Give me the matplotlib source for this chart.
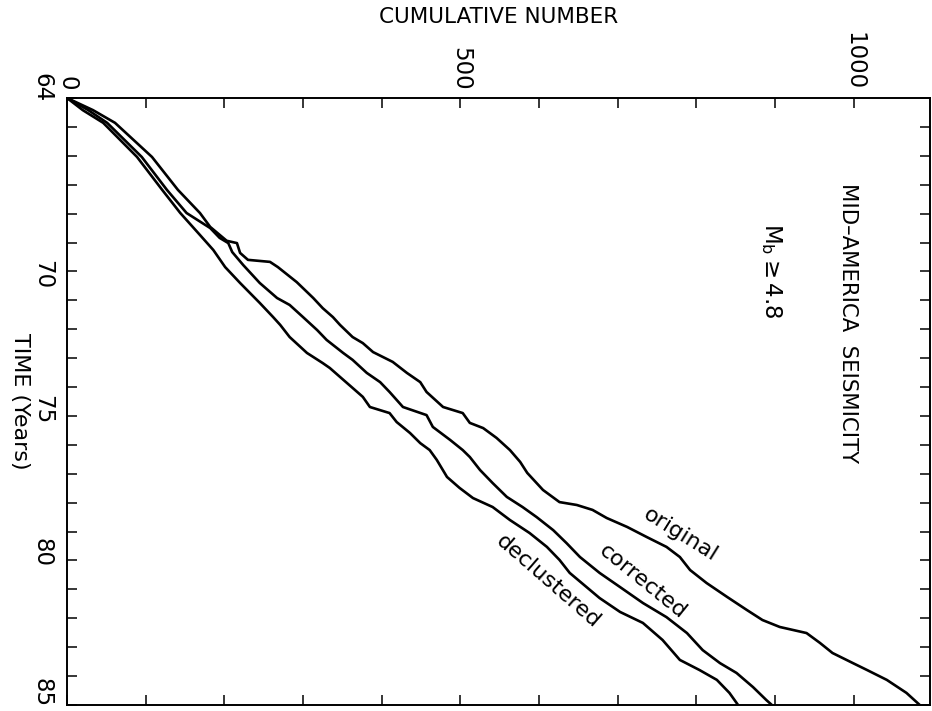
import matplotlib
matplotlib.use('Agg')
import matplotlib.pyplot as plt
import matplotlib.transforms as mtransforms
from matplotlib.ticker import MultipleLocator

plt.rcParams['font.family'] = ['DejaVu Sans']

# ---- data ----
orig_year = [64.0, 64.42, 64.86, 66.04, 67.18, 67.98, 68.46, 68.94, 69.02, 69.36, 69.60, 69.67,
             69.85, 70.37, 70.92, 71.27, 71.58, 71.85, 72.27, 72.48, 72.79, 73.13, 73.51, 73.83,
             74.17, 74.69, 74.90, 75.24, 75.42, 75.76, 76.18, 76.59, 76.97, 77.56, 77.98, 78.08,
             78.25, 78.53, 78.84, 79.19, 79.53, 79.88, 80.33, 80.78, 81.26, 81.71, 82.06, 82.30,
             82.51, 82.85, 83.20, 83.55, 83.79, 84.13, 84.58, 85.0]
orig_n = [0, 33, 61, 108, 141, 169, 182, 203, 216, 220, 230, 258,
          268, 292, 313, 325, 338, 347, 363, 376, 389, 414, 432, 449,
          457, 478, 503, 512, 529, 546, 563, 576, 585, 605, 626, 648,
          668, 686, 712, 737, 762, 779, 792, 813, 839, 864, 884, 906,
          940, 957, 973, 999, 1017, 1042, 1067, 1084]

corr_year = [64.0, 64.42, 64.86, 66.04, 67.18, 67.98, 68.50, 68.84, 69.02, 69.33, 69.78, 70.40,
             70.92, 71.16, 71.58, 72.03, 72.37, 72.82, 73.06, 73.51, 73.83, 74.17, 74.69, 74.97,
             75.38, 75.83, 76.18, 76.42, 76.87, 77.32, 77.80, 78.15, 78.50, 78.95, 79.40, 79.88,
             80.43, 80.92, 81.47, 81.96, 82.51, 83.10, 83.55, 83.89, 84.38, 84.83, 85.0]
corr_n = [0, 27, 51, 95, 127, 152, 182, 194, 205, 210, 224, 245,
          267, 283, 300, 318, 330, 351, 363, 381, 398, 410, 427, 457,
          465, 487, 503, 512, 525, 541, 559, 579, 597, 618, 635, 652,
          677, 703, 732, 762, 788, 808, 830, 851, 872, 889, 896]

decl_year = [64.0, 64.42, 64.86, 66.04, 67.18, 67.98, 68.74, 69.26, 69.85, 70.40, 71.09, 71.58,
             71.85, 72.27, 72.82, 73.17, 73.34, 73.65, 74.03, 74.34, 74.69, 74.90, 75.21, 75.59,
             75.94, 76.18, 76.52, 77.11, 77.49, 77.84, 78.15, 78.60, 79.05, 79.53, 79.98, 80.43,
             81.30, 81.78, 82.16, 82.75, 83.44, 83.79, 84.13, 84.58, 85.0]
decl_n = [0, 20, 46, 89, 121, 144, 169, 186, 201, 220, 245, 262,
          271, 283, 305, 325, 334, 347, 363, 376, 385, 410, 419, 436,
          449, 461, 470, 483, 499, 516, 541, 563, 588, 610, 626, 639,
          677, 703, 732, 757, 779, 804, 826, 842, 853]

n_ticks = [0, 500, 1000]
n_tick_labels = ['0', '500', '1000']
year_ticks = [64, 70, 75, 80, 85]
year_tick_labels = ['64', '70', '75', '80', '85']

# ---- figure ----
fig = plt.figure(figsize=(9.32, 7.11), dpi=100)
ax = fig.add_axes([0.0719, 0.0084, 0.926, 0.8538])

for n, yr in [(orig_n, orig_year), (corr_n, corr_year), (decl_n, decl_year)]:
    ax.plot(n, yr, color='black', lw=1.9, solid_joinstyle='round')

ax.set_xlim(0, 1097)
ax.set_ylim(85, 64)

for s in ax.spines.values():
    s.set_linewidth(1.4)

ax.set_xticks(n_ticks)
ax.xaxis.set_minor_locator(MultipleLocator(100))
ax.set_yticks(year_ticks)
ax.yaxis.set_minor_locator(MultipleLocator(1))

ax.tick_params(which='both', direction='in', top=True, bottom=True, left=True, right=True,
               length=7, width=1.1, labelbottom=False, labeltop=True,
               labelleft=True, labelright=False)
ax.tick_params(axis='x', which='major', pad=5.5)
ax.tick_params(axis='y', which='major', pad=9.5)

ax.set_xticklabels(n_tick_labels, rotation=-90, fontsize=16.5)
ax.set_yticklabels(year_tick_labels, rotation=-90, fontsize=16.5, va='center')

ax.xaxis.set_label_position('top')
ax.set_xlabel('CUMULATIVE NUMBER', fontsize=15.5, va='center', ha='center')
ax.xaxis.set_label_coords(0.5, 1.1334)
ax.set_ylabel('TIME (Years)', fontsize=16, rotation=-90, va='center', ha='center')
ax.yaxis.set_label_coords(-0.0545, 0.5)

ax.text(993, 66.94, 'MID\u2013AMERICA  SEISMICITY', rotation=-90, ha='center', va='top',
        fontsize=15.2)
ax.text(895, 68.32, r'$\mathregular{M_b \geq 4.8}$', rotation=-90, ha='center', va='top',
        fontsize=16.5)

ax.text(780, 79.12, 'original', rotation=-32, ha='center', va='center', fontsize=16)
ax.text(732, 80.74, 'corrected', rotation=-39, ha='center', va='center', fontsize=16)
ax.text(611, 80.71, 'declustered', rotation=-41, ha='center', va='center', fontsize=16)

# nudge the rotated time labels upward a little, as in the reference
label_shift_px = {'64': 10, '70': -3, '75': 6, '80': 8, '85': 12}
fig.canvas.draw()
for lab in ax.get_yticklabels():
    d = label_shift_px.get(lab.get_text(), 0)
    lab.set_transform(lab.get_transform() +
                      mtransforms.ScaledTranslation(0, d / 100.0, fig.dpi_scale_trans))

fig.savefig('out.png', dpi=100)
